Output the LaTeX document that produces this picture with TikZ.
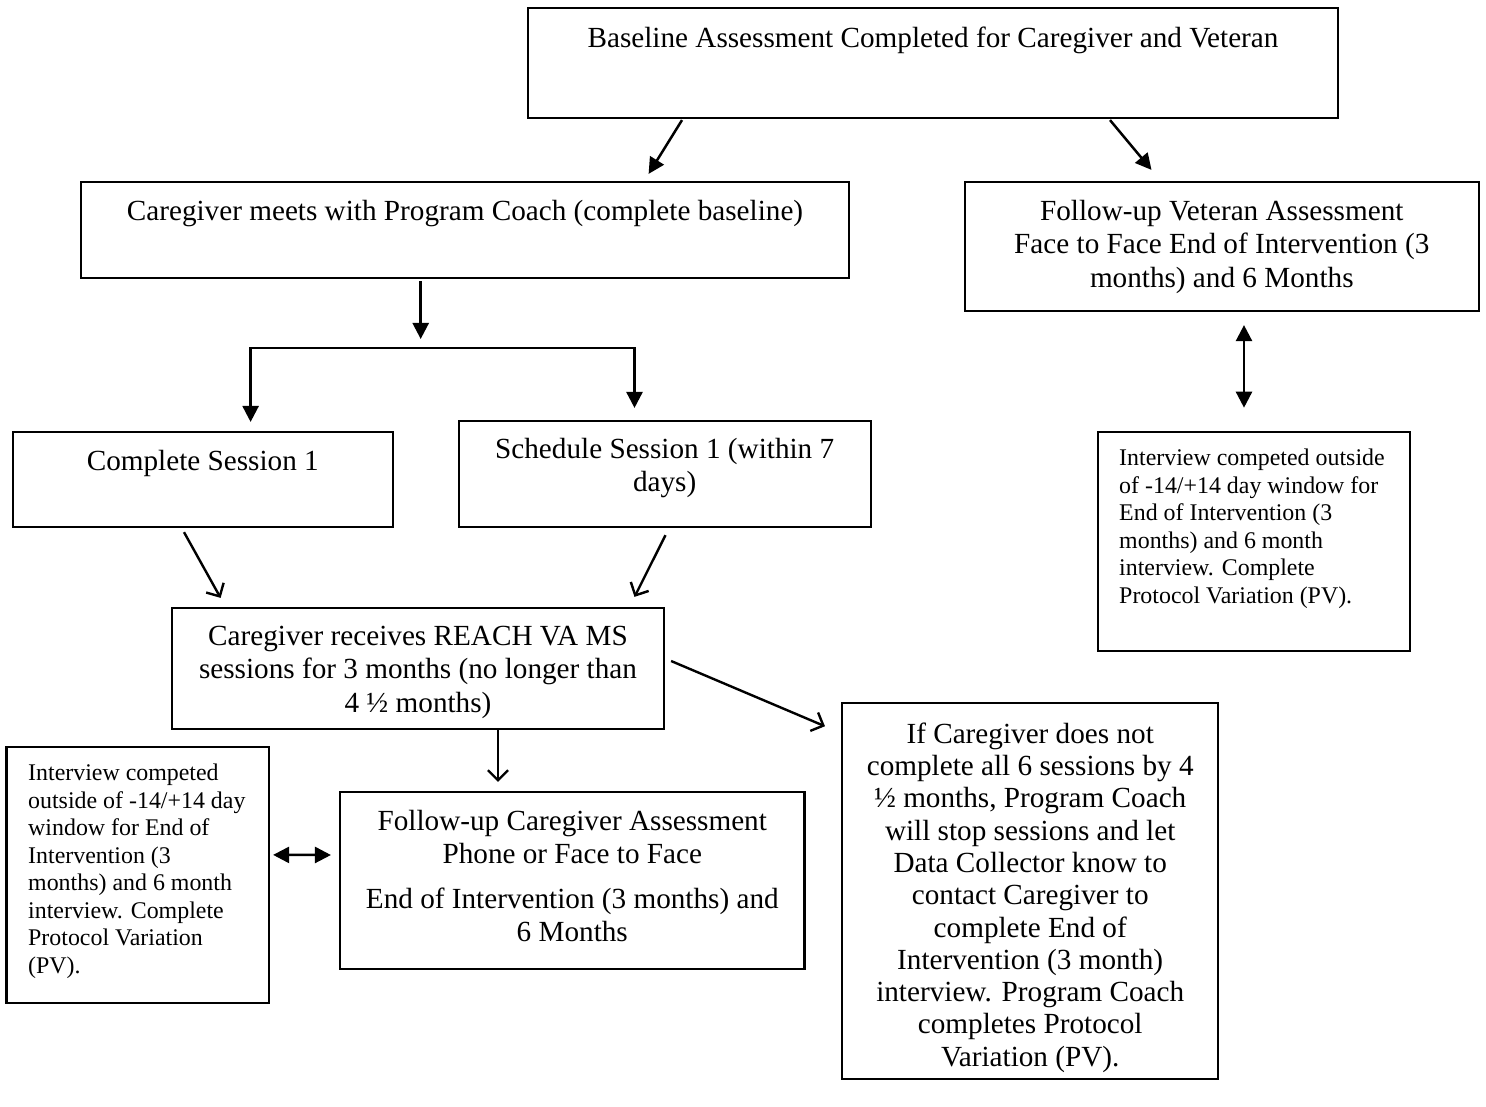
\documentclass[tikz,border=0pt]{standalone}
\usepackage{fontspec}
\setmainfont{Liberation Serif}
\usetikzlibrary{arrows.meta}
\newcommand\bigf{\fontsize{29.2}{33.4}\selectfont}
\newcommand\smallf{\fontsize{23.9}{27.5}\selectfont}
\newcommand\tightf{\fontsize{29.2}{32.3}\selectfont}
\begin{document}
\begin{tikzpicture}[x=1pt,y=-1pt,
  box/.style={draw, line width=2.2pt, inner sep=0pt},
  btxt/.style={font=\bigf, align=center, inner sep=0pt, anchor=north},
  stxt/.style={font=\smallf, align=left, inner sep=0pt, anchor=north west},
  tri/.style={line width=2.5pt, -{Triangle[length=16pt,width=16pt]}},
  dtri/.style={line width=2.5pt, {Triangle[length=16pt,width=16pt]}-{Triangle[length=16pt,width=16pt]}},
  barb/.style={line width=2.4pt, -{Straight Barb[length=10pt,width=20pt]}}]
\useasboundingbox[fill=white] (0,0) rectangle (1486,1107);

% boxes
\node[box, minimum width=810pt, minimum height=110pt] (base) at (933,63) {};
\node[btxt] (base-t) at (933,23.6) {\strut Baseline Assessment Completed for Caregiver and Veteran};

\node[box, minimum width=767.6pt, minimum height=96pt] (meet) at (465,230) {};
\node[btxt] (meet-t) at (465,196.6) {\strut Caregiver meets with Program Coach (complete baseline)};

\node[box, minimum width=514.4pt, minimum height=129pt] (vet) at (1221.8,246.5) {};
\node[btxt] (vet-t) at (1221.8,197) {\strut Follow-up Veteran Assessment\\Face to Face End of Intervention (3\\months) and 6 Months};

\node[box, minimum width=379.6pt, minimum height=95.3pt] (cs1) at (202.8,479.4) {};
\node[btxt] (cs1-t) at (202.8,446.6) {\strut Complete Session 1};

\node[box, minimum width=412.2pt, minimum height=106.3pt] (sched) at (664.7,473.9) {};
\node[btxt] (sched-t) at (664.7,434.6) {\strut Schedule Session 1 (within 7\\days)};

\node[box, minimum width=492pt, minimum height=121pt] (reach) at (418,668.5) {};
\node[btxt] (reach-t) at (418,622) {\strut Caregiver receives REACH VA MS\\sessions for 3 months (no longer than\\4 ½ months)};

\node[box, minimum width=312pt, minimum height=218.4pt] (vint) at (1253.8,541.5) {};
\node[stxt] (vint-t) at (1119,446.5) {\strut Interview competed outside\\of -14/+14 day window for\\End of Intervention (3\\months) and 6 month\\interview. Complete\\Protocol Variation (PV).};

\node[box, minimum width=262.6pt, minimum height=256.3pt] (cint) at (137.7,874.9) {};
\node[stxt] (cint-t) at (28,761.5) {\strut Interview competed\\outside of -14/+14 day\\window for End of\\Intervention (3\\months) and 6 month\\interview. Complete\\Protocol Variation\\(PV).};

\node[box, minimum width=464.5pt, minimum height=177pt] (fcg) at (572.3,880.2) {};
\node[btxt] (fcg-t) at (572.3,807) {\strut Follow-up Caregiver Assessment\\Phone or Face to Face\\[10.7pt]End of Intervention (3 months) and\\6 Months};

\node[box, minimum width=376.3pt, minimum height=375.7pt] (ifcg) at (1030.2,891.2) {};
\node[btxt, font=\tightf] (ifcg-t) at (1030.2,720.4) {\strut If Caregiver does not\\complete all 6 sessions by 4\\½ months, Program Coach\\will stop sessions and let\\Data Collector know to\\contact Caregiver to\\complete End of\\Intervention (3 month)\\interview. Program Coach\\completes Protocol\\Variation (PV).};

% connectors
\coordinate (split) at (420.7,349);
\draw[tri] ([shift={(-251,1)}]base.south) -- ([shift={(183.6,-7)}]meet.north);
\draw[tri] ([shift={(177,1)}]base.south) -- ([shift={(-70.3,-11)}]vet.north);
\draw[tri] ([shift={(-44.3,2)}]meet.south) -- ([shift={(0,-10)}]split);
\draw[dtri, line join=miter] ([shift={(47.8,-8.7)}]cs1.north) -- ++(0,-74) -- ++(383.9,0) -- ([shift={(-30.2,-11.7)}]sched.north);
\draw[dtri] ([shift={(22.2,13)}]vet.south) -- ([shift={(-9.8,-23.5)}]vint.north);
\draw[barb] ([shift={(-18.8,4)}]cs1.south) -- ([shift={(-197.4,-9)}]reach.north);
\draw[barb] ([shift={(0.8,7)}]sched.south) -- ([shift={(216.5,-10)}]reach.north);
\draw[barb] ([shift={(6,-7.5)}]reach.east) -- ([shift={(-16,24)}]ifcg.north west);
\draw[barb] ([shift={(80,0)}]reach.south) -- ([shift={(-74.3,-8.7)}]fcg.north);
\draw[dtri] ([shift={(3,-20)}]cint.east) -- ([shift={(-8,-25.2)}]fcg.west);
\end{tikzpicture}
\end{document}
